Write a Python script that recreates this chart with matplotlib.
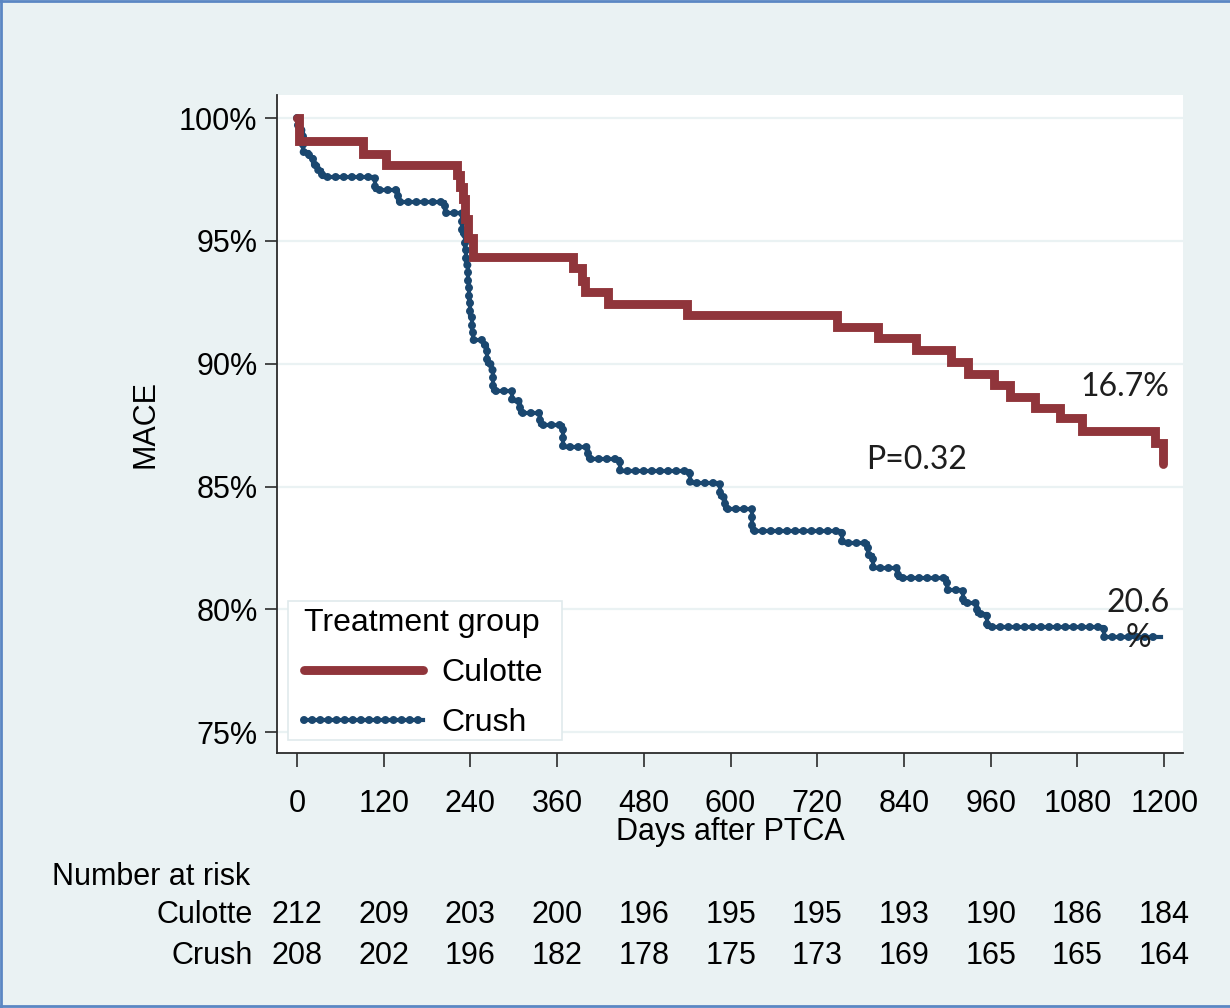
import matplotlib
matplotlib.use("Agg")
import matplotlib.pyplot as plt
from matplotlib.lines import Line2D
from matplotlib.patches import Rectangle
from matplotlib.legend_handler import HandlerTuple
from matplotlib.transforms import blended_transform_factory

plt.rcParams['font.family'] = ['Liberation Sans', 'DejaVu Sans']

# Kaplan-Meier steps (days, event-free %)
culotte_days = [0, 3, 91, 123, 221, 225, 229, 233, 237, 243, 382, 394, 398, 431,
                540, 747, 804, 856, 905, 929, 964, 987, 1021, 1056, 1086, 1187, 1199]
culotte_pct = [100, 99.05, 98.55, 98.1, 97.7, 97.2, 96.7, 95.9, 95.1, 94.35, 93.9, 93.35,
               92.9, 92.45, 92.0, 91.5, 91.05, 90.55, 90.07, 89.6, 89.13, 88.65, 88.2,
               87.8, 87.25, 86.77, 85.9]

crush_days = [0, 1, 8, 17, 22, 29, 35, 108, 140, 205, 228, 232, 234, 236, 238, 240, 242,
              244, 258, 263, 268, 271, 298, 308, 336, 368, 403, 447, 544, 585, 592, 630,
              754, 790, 797, 832, 899, 922, 941, 955, 1116, 1195]
crush_pct = [100, 99.5, 98.6, 98.4, 98.1, 97.9, 97.6, 97.07, 96.6, 96.15, 95.3, 94.7,
             94.0, 93.3, 92.6, 91.9, 91.3, 90.95, 90.75, 90.0, 89.75, 88.9, 88.5, 88.0,
             87.5, 86.6, 86.1, 85.65, 85.13, 84.57, 84.1, 83.2, 82.7, 82.2, 81.7, 81.26,
             80.8, 80.25, 79.8, 79.28, 78.87, 78.87]

x_ticks = [0, 120, 240, 360, 480, 600, 720, 840, 960, 1080, 1200]
y_ticks = [75, 80, 85, 90, 95, 100]
risk_culotte = [212, 209, 203, 200, 196, 195, 195, 193, 190, 186, 184]
risk_crush = [208, 202, 196, 182, 178, 175, 173, 169, 165, 165, 164]

RED = '#90353B'
NAVY = '#1A476F'
BG = '#EAF2F3'
FS = 22

fig = plt.figure(figsize=(12.3, 10.08), dpi=100)
fig.patch.set_facecolor(BG)
ax = fig.add_axes([277/1230, 1 - 753/1008, 906/1230, 658/1008])
ax.set_facecolor('white')

ax.set_xlim(-27.7, 1226)
ax.set_ylim(74.15, 100.94)
for y in y_ticks:
    ax.axhline(y, color=BG, lw=1.6, zorder=0)

l_cul, = ax.step(culotte_days, culotte_pct, where='post', color=RED, lw=6.4,
                 solid_capstyle='round', solid_joinstyle='miter', zorder=3)
l_cr1, = ax.step(crush_days, crush_pct, where='post', color=NAVY, lw=3.0, zorder=2)
l_cr2, = ax.step(crush_days, crush_pct, where='post', color=NAVY, lw=5.8,
                 linestyle=(0, (0.01, 1.0)), dash_capstyle='round', zorder=2)

for s in ['top', 'right']:
    ax.spines[s].set_visible(False)
for s in ['left', 'bottom']:
    ax.spines[s].set_color('#2b2b2b')
    ax.spines[s].set_linewidth(1.3)

ax.set_xticks(x_ticks)
ax.set_xticklabels([str(t) for t in x_ticks])
ax.set_yticks(y_ticks)
ax.set_yticklabels([f'{t}%' for t in y_ticks])
ax.tick_params(axis='x', length=10, width=1.2, color='#2b2b2b', pad=16, labelsize=FS)
ax.tick_params(axis='y', length=9, width=1.2, color='#2b2b2b', pad=5, labelsize=FS)

fig.text(145/1230, 1 - 424/1008, 'MACE', rotation=90, ha='center', va='center', fontsize=FS)
fig.text(730/1230, 1 - 832/1008, 'Days after PTCA', ha='center', va='center', fontsize=FS)

ann = dict(family=['Lato', 'DejaVu Sans'], fontsize=23, color='#1e1e1e', ha='center', va='center')
ax.text(1146, 89.05, '16.7%', **ann)
ax.text(857, 86.07, 'P=0.32', **ann)
ax.text(1164, 79.55, '20.6\n%', linespacing=1.2, **ann)

# legend box drawn separately so the inner padding can differ per side
ax.add_patch(Rectangle((288/1230, 1 - 740/1008), 274/1230, 139/1008,
                       transform=fig.transFigure, facecolor='white',
                       edgecolor='#E0EAEC', lw=1.2, zorder=4))
leg = ax.legend([l_cul, (l_cr1, l_cr2)], ['Culotte', 'Crush'],
                handler_map={tuple: HandlerTuple(ndivide=1)},
                title='Treatment group', title_fontsize=23, fontsize=23,
                loc='lower left', bbox_to_anchor=(302/1230, 1 - 740/1008),
                bbox_transform=fig.transFigure, frameon=False, handlelength=3.75,
                handletextpad=0.55, labelspacing=0.64, borderpad=0.05,
                borderaxespad=0, alignment='left')
leg.set_zorder(5)

# number at risk table
tr = blended_transform_factory(ax.transData, fig.transFigure)
fig.text(52/1230, 1 - 877/1008, 'Number at risk', ha='left', va='center', fontsize=FS)
fig.text(253/1230, 1 - 915/1008, 'Culotte', ha='right', va='center', fontsize=FS)
fig.text(253/1230, 1 - 956/1008, 'Crush', ha='right', va='center', fontsize=FS)
for d, a, b in zip(x_ticks, risk_culotte, risk_crush):
    ax.text(d, 1 - 915/1008, str(a), transform=tr, ha='center', va='center', fontsize=FS)
    ax.text(d, 1 - 956/1008, str(b), transform=tr, ha='center', va='center', fontsize=FS)

# thin blue frame around the picture
bc = '#5B87C3'
fig.add_artist(Line2D([0.001, 0.001], [0, 1], color=bc, lw=2, transform=fig.transFigure))
fig.add_artist(Line2D([0, 1], [0.999, 0.999], color=bc, lw=2, transform=fig.transFigure))
fig.add_artist(Line2D([0, 1], [0.002, 0.002], color=bc, lw=2, transform=fig.transFigure))

fig.savefig('out.png', dpi=100, facecolor=fig.get_facecolor())
